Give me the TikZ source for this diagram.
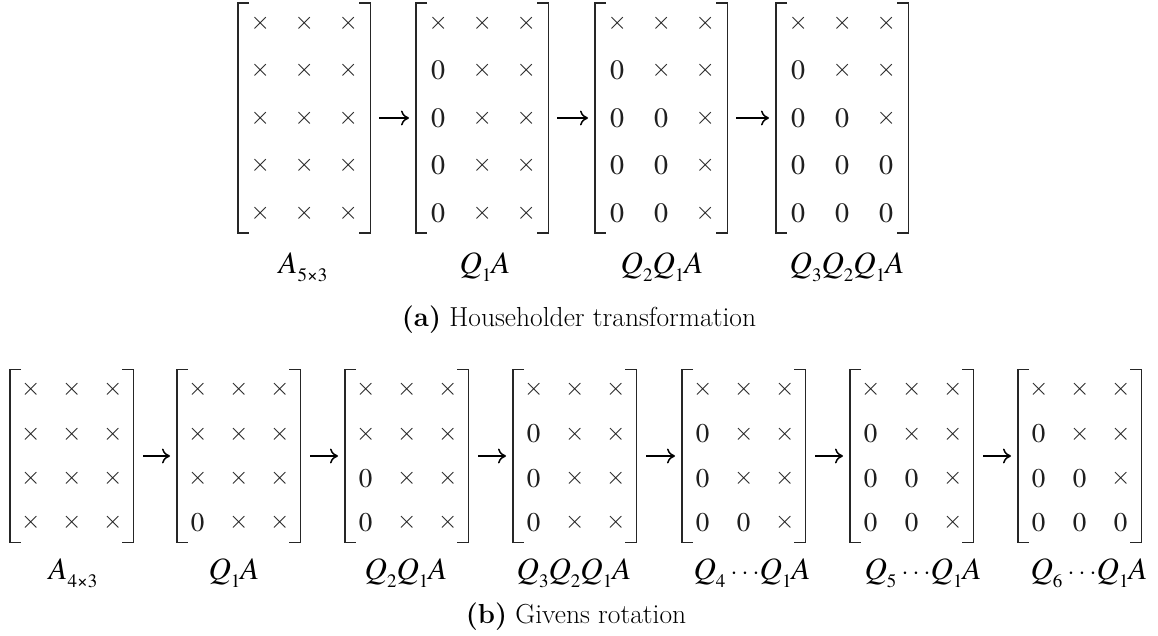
\documentclass[tikz,border=0pt]{standalone}
\usepackage{fontspec}
\newfontfamily\tnr{texgyretermes}[Extension=.otf, UprightFont=*-regular,
  ItalicFont=*-italic, BoldFont=*-bold]
\usetikzlibrary{matrix,arrows.meta,calc}

% thin cross used for a non-zero matrix entry
\newcommand\crs{{\fontsize{24}{24}\selectfont$\times$}}
% subscript used in the matrix labels
\newcommand\sbs[1]{\raisebox{-0.26em}{\fontsize{19}{19}\selectfont\upshape #1}}
% square brackets drawn around a matrix node
\newcommand\brackets[2]{%
  \draw[brk] ($(#1.north west)+(11,#2)$) -- ($(#1.north west)+(0,#2)$)
             -- ($(#1.south west)+(0,-#2)$) -- ++(11,0);
  \draw[brk] ($(#1.north east)+(-11,#2)$) -- ($(#1.north east)+(0,#2)$)
             -- ($(#1.south east)+(0,-#2)$) -- ++(-11,0);}

\tikzset{
  ent/.style={font=\tnr\fontsize{28}{28}\selectfont, inner sep=0pt, anchor=center, text=black!88},
  hmat/.style={matrix of nodes, inner sep=0pt,
    nodes={ent, minimum width=44pt, minimum height=47.5pt}},
  gmat/.style={matrix of nodes, inner sep=0pt,
    nodes={ent, font=\tnr\fontsize{27}{27}\selectfont, minimum width=41pt, minimum height=44.3pt}},
  brk/.style={line width=1.3pt, draw=black!85},
  flow/.style={line width=1.5pt, -{Computer Modern Rightarrow[length=8pt,width=15pt]}},
  lbl/.style={font=\tnr\fontsize{31}{31}\selectfont\itshape, inner sep=0pt},
  captext/.style={font=\fontsize{27.5}{33}\selectfont, inner sep=0pt}
}

\begin{document}
\begin{tikzpicture}[x=1pt,y=-1pt]
\useasboundingbox (0,0) rectangle (1158,636);

% ---------- Householder ----------
\matrix (h1) [hmat, anchor=west] at (238,118) {
\crs & \crs & \crs \\ \crs & \crs & \crs \\ \crs & \crs & \crs \\ \crs & \crs & \crs \\ \crs & \crs & \crs \\};
\matrix (h2) [hmat, anchor=west] at (416,118) {
\crs & \crs & \crs \\ 0 & \crs & \crs \\ 0 & \crs & \crs \\ 0 & \crs & \crs \\ 0 & \crs & \crs \\};
\matrix (h3) [hmat, anchor=west] at (595,118) {
\crs & \crs & \crs \\ 0 & \crs & \crs \\ 0 & 0 & \crs \\ 0 & 0 & \crs \\ 0 & 0 & \crs \\};
\matrix (h4) [hmat, anchor=west] at (776,118) {
\crs & \crs & \crs \\ 0 & \crs & \crs \\ 0 & 0 & \crs \\ 0 & 0 & 0 \\ 0 & 0 & 0 \\};
\foreach \m in {h1,h2,h3,h4} {\brackets{\m}{4}}

\draw[flow] ([xshift=9pt]h1.east) -- ([xshift=-7pt]h2.west);
\draw[flow] ([xshift=9pt]h2.east) -- ([xshift=-7pt]h3.west);
\draw[flow] ([xshift=9pt]h3.east) -- ([xshift=-7pt]h4.west);

\node[lbl] (hl1) at (303,267) {A\sbs{5×3}};
\node[lbl] (hl2) at (485,267) {Q\sbs{1}A};
\node[lbl] (hl3) at (662,267) {Q\sbs{2}Q\sbs{1}A};
\node[lbl] (hl4) at (847,267) {Q\sbs{3}Q\sbs{2}Q\sbs{1}A};

\node[captext] (capa) at (579,320) {\textbf{(a)} Householder transformation};

% ---------- Givens ----------
\matrix (g1) [gmat, anchor=west] at (10,456) {
\crs & \crs & \crs \\ \crs & \crs & \crs \\ \crs & \crs & \crs \\ \crs & \crs & \crs \\};
\matrix (g2) [gmat, anchor=west] at (177,456) {
\crs & \crs & \crs \\ \crs & \crs & \crs \\ \crs & \crs & \crs \\ 0 & \crs & \crs \\};
\matrix (g3) [gmat, anchor=west] at (345,456) {
\crs & \crs & \crs \\ \crs & \crs & \crs \\ 0 & \crs & \crs \\ 0 & \crs & \crs \\};
\matrix (g4) [gmat, anchor=west] at (513,456) {
\crs & \crs & \crs \\ 0 & \crs & \crs \\ 0 & \crs & \crs \\ 0 & \crs & \crs \\};
\matrix (g5) [gmat, anchor=west] at (682,456) {
\crs & \crs & \crs \\ 0 & \crs & \crs \\ 0 & \crs & \crs \\ 0 & 0 & \crs \\};
\matrix (g6) [gmat, anchor=west] at (850,456) {
\crs & \crs & \crs \\ 0 & \crs & \crs \\ 0 & 0 & \crs \\ 0 & 0 & \crs \\};
\matrix (g7) [gmat, anchor=west] at (1018,456) {
\crs & \crs & \crs \\ 0 & \crs & \crs \\ 0 & 0 & \crs \\ 0 & 0 & 0 \\};
\foreach \m in {g1,g2,g3,g4,g5,g6,g7} {\brackets{\m}{2}}

\foreach \a/\b in {g1/g2,g2/g3,g3/g4,g4/g5,g5/g6,g6/g7}
  \draw[flow] ([xshift=10pt]\a.east) -- ([xshift=-7pt]\b.west);

\node[lbl] (gl1) at (73,573) {A\sbs{4×3}};
\node[lbl] (gl2) at (234,573) {Q\sbs{1}A};
\node[lbl] (gl3) at (406,573) {Q\sbs{2}Q\sbs{1}A};
\node[lbl] (gl4) at (574,573) {Q\sbs{3}Q\sbs{2}Q\sbs{1}A};
\node[lbl] (gl5) at (752,573) {Q\sbs{4}\,$\cdots$Q\sbs{1}A};
\node[lbl] (gl6) at (923,573) {Q\sbs{5}\,$\cdots$Q\sbs{1}A};
\node[lbl] (gl7) at (1089,573) {Q\sbs{6}\,$\cdots$Q\sbs{1}A};

\node[captext] (capb) at (576,617) {\textbf{(b)} Givens rotation};
\end{tikzpicture}
\end{document}
